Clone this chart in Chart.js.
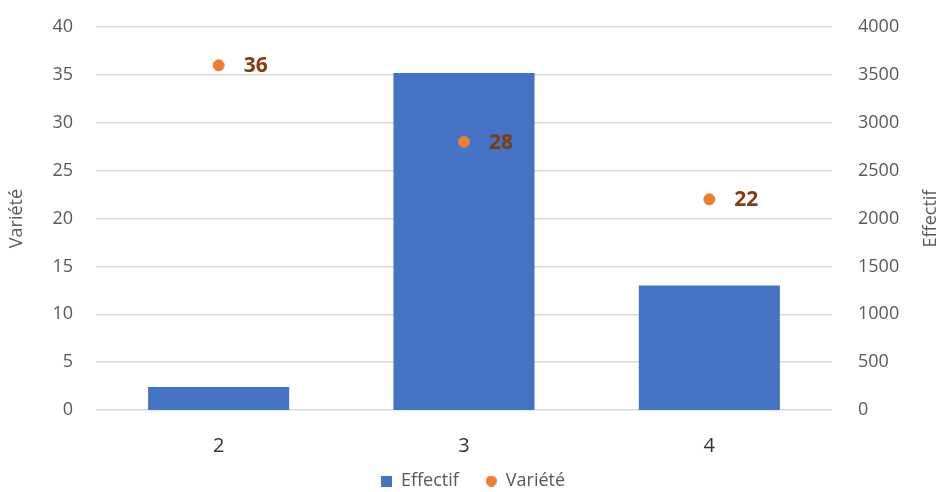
<!DOCTYPE html>
<html>
<head>
<meta charset="utf-8">
<script src="https://cdn.jsdelivr.net/npm/chart.js@4/dist/chart.umd.min.js"></script>
<style>
  html, body { margin: 0; padding: 0; background: #ffffff; }
  #wrap { width: 946px; height: 492px; }
</style>
</head>
<body>
<div id="wrap"><canvas id="chart" width="946" height="492"></canvas></div>
<script>
const categories = ['2', '3', '4'];
const effectif = [240, 3520, 1300];
const variete = [36, 28, 22];
const leftTicks = { min: 0, max: 40, step: 5 };
const rightTicks = { min: 0, max: 4000, step: 500 };

const FONT = '"Open Sans", Lato, sans-serif';
const GREY = '#595959';
const BLUE = '#4472C4';
const ORANGE = '#ED7D31';

// Small legend markers: a square for the bars, a dot for the points
function marker(shape, color) {
  const c = document.createElement('canvas');
  c.width = 11; c.height = 11;
  const g = c.getContext('2d');
  g.fillStyle = color;
  if (shape === 'circle') {
    g.beginPath(); g.arc(5.5, 5.5, 5.5, 0, Math.PI * 2); g.fill();
  } else {
    g.fillRect(0, 0, 11, 11);
  }
  return c;
}
const legendMarks = { 'Effectif': marker('rect', BLUE), 'Variété': marker('circle', ORANGE) };

// Value labels beside each Variété point, the right axis title read bottom-to-top,
// and the legend row pulled up closer to the category labels
const annotations = {
  id: 'annotations',
  afterLayout(chart) {
    const lg = chart.legend;
    const h = lg.bottom - lg.top;
    lg.top = chart.chartArea.bottom + 35;
    lg.bottom = lg.top + h;
  },
  afterDatasetsDraw(chart) {
    const meta = chart.getDatasetMeta(0);
    const ctx = chart.ctx;
    ctx.save();
    ctx.font = 'bold 21px ' + FONT;
    ctx.fillStyle = '#843C0C';
    ctx.textAlign = 'left';
    ctx.textBaseline = 'middle';
    meta.data.forEach((pt, i) => {
      ctx.fillText(String(variete[i]), pt.x + 25, pt.y + 1);
    });
    ctx.restore();
  },
  afterDraw(chart) {
    const ctx = chart.ctx;
    const area = chart.chartArea;
    ctx.save();
    ctx.translate(931, (area.top + area.bottom) / 2);
    ctx.rotate(-Math.PI / 2);
    ctx.font = '18px ' + FONT;
    ctx.fillStyle = GREY;
    ctx.textAlign = 'center';
    ctx.textBaseline = 'middle';
    ctx.fillText('Effectif', 0, 0);
    ctx.restore();
  }
};

function noVerticalPad(scale) {
  scale.paddingTop = 0;
  scale.paddingBottom = 0;
}

new Chart(document.getElementById('chart'), {
  type: 'bar',
  data: {
    labels: categories,
    datasets: [
      {
        type: 'line',
        label: 'Variété',
        data: variete,
        yAxisID: 'y',
        showLine: false,
        pointStyle: 'circle',
        pointRadius: 5.5,
        pointBackgroundColor: ORANGE,
        pointBorderColor: ORANGE,
        backgroundColor: ORANGE,
        borderColor: ORANGE,
        order: 0
      },
      {
        type: 'bar',
        label: 'Effectif',
        data: effectif,
        yAxisID: 'y1',
        backgroundColor: BLUE,
        borderWidth: 0,
        categoryPercentage: 0.575,
        barPercentage: 1.0,
        order: 1
      }
    ]
  },
  options: {
    responsive: false,
    animation: false,
    layout: { padding: { top: 27, left: 0, right: 0, bottom: -21 } },
    plugins: {
      tooltip: { enabled: false },
      legend: {
        position: 'bottom',
        reverse: true,
        labels: {
          usePointStyle: true,
          boxWidth: 11,
          boxHeight: 11,
          padding: 27,
          color: GREY,
          font: { family: FONT, size: 18 },
          generateLabels(chart) {
            const items = Chart.defaults.plugins.legend.labels.generateLabels(chart);
            items.forEach(it => { it.pointStyle = legendMarks[it.text]; });
            return items;
          }
        }
      }
    },
    scales: {
      x: {
        grid: { display: false, drawTicks: false },
        border: { display: false },
        ticks: { color: '#333333', padding: 24, font: { family: FONT, size: 20 } },
        afterFit(scale) { scale.height = 48; }
      },
      y: {
        position: 'left',
        min: leftTicks.min,
        max: leftTicks.max,
        ticks: { stepSize: leftTicks.step, color: GREY, padding: 23, font: { family: FONT, size: 18 } },
        grid: { color: '#D9D9D9', lineWidth: 1.5, drawTicks: false },
        border: { display: false },
        title: { display: true, text: 'Variété', color: GREY, font: { family: FONT, size: 18 }, padding: 6 },
        afterFit(scale) { scale.width = 96; noVerticalPad(scale); }
      },
      y1: {
        position: 'right',
        min: rightTicks.min,
        max: rightTicks.max,
        ticks: {
          stepSize: rightTicks.step, color: GREY, padding: 26,
          font: { family: FONT, size: 18 },
          callback: v => String(v)
        },
        grid: { display: false, drawTicks: false },
        border: { display: false },
        afterFit(scale) { scale.width = 946 - 832; noVerticalPad(scale); }
      }
    }
  },
  plugins: [annotations]
});
</script>
</body>
</html>
